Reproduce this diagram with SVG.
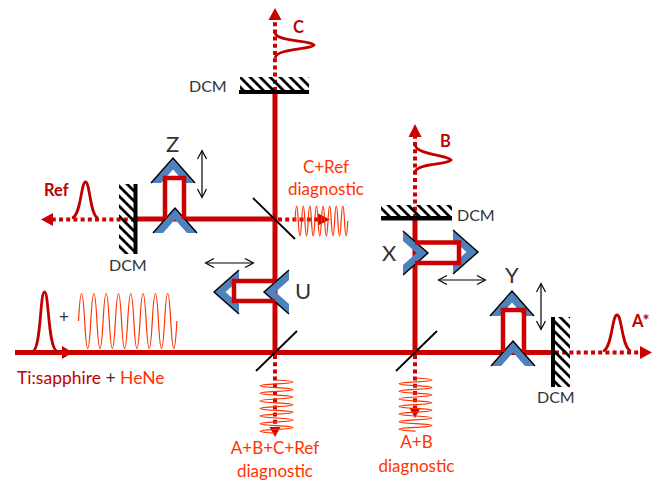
<svg xmlns="http://www.w3.org/2000/svg" width="660" height="482" viewBox="0 0 660 482">
<defs>
<pattern id="hatch" width="10" height="10" patternUnits="userSpaceOnUse" patternTransform="translate(240 77)">
<path d="M-2 -2L12 12M-2 8L2 12M8 -2L12 2" stroke="#000" stroke-width="2.800" fill="none"/>
</pattern>
<g id="chev">
<path d="M0 0L22 25L12 25L0 11.500L-12 25L-22 25Z" fill="#4F81BD"/>
<path d="M-22 25L0 0L22 25" fill="none" stroke="#000" stroke-width="1.400"/>
</g>
<marker id="open" markerWidth="12" markerHeight="12" refX="9" refY="5" orient="auto-start-reverse" markerUnits="userSpaceOnUse">
<path d="M1 0.500L9.500 5L1 9.500" fill="none" stroke="#000" stroke-width="1.200"/>
</marker>
</defs>
<style>
.beam{fill:none;stroke:#CC0000;stroke-width:5}
.thin{fill:none;stroke:#CC0000;stroke-width:4.500}
.dot{fill:none;stroke:#CC0000;stroke-width:4;stroke-dasharray:4 3.200}
.head{fill:#CC0000;stroke:none}
.pulse{fill:none;stroke:#C00000;stroke-width:2.800}
.wave{fill:none;stroke:#FF3300;stroke-width:1.200}
.bs{stroke:#000;stroke-width:1.800;fill:none}
.move{stroke:#000;stroke-width:1.200;fill:none;marker-start:url(#open);marker-end:url(#open)}
.bar{fill:#000}
.h{fill:url(#hatch)}
text{font-family:Lato,"Liberation Sans",sans-serif}
.lab{fill:#333;font-size:22px}
.dcm{fill:#333;font-size:16px}
.or{fill:#FF3300;font-size:17px;text-anchor:middle}
.bold{fill:#C00000;font-size:16.500px;font-weight:700}
</style>
<g id="connectors">
<path class="beam" d="M15 352.500H553"/>
<path class="head" d="M62 346L73 352.500L62 359Z"/>
<path class="beam" d="M275 352V92"/>
<path class="beam" d="M275 219H135"/>
<path class="beam" d="M415 352V218"/>
<path class="dot" d="M275 91V20"/>
<path class="head" d="M268.500 20L275 8L281.500 20Z"/>
<path class="dot" d="M415 218V137"/>
<path class="head" d="M408.500 137L415 124L421.500 137Z"/>
<path class="dot" d="M135 219.500H52"/>
<path class="head" d="M53 213L41 219.500L53 226Z"/>
<path class="dot" d="M555 352.500H640"/>
<path class="head" d="M640 346L652 352.500L640 359Z"/>
<path class="dot" d="M278 219.500H320"/>
<path class="head" d="M318 213.500L330 219.500L318 225.500Z"/>
<path class="dot" d="M275 355V428"/>
<path class="head" d="M269.500 427L275 437L280.500 427Z"/>
<path class="dot" d="M415 355V410"/>
<path class="head" d="M409.500 408L415 418L420.500 408Z"/>
</g>
<g id="pulses">
<path class="pulse" d="M33 351C41 349 40 292 44.500 292C49 292 48 349 57 351"/>
<path class="pulse" d="M72 218C81 216 81 182 85.500 182C90 182 90 216 98 218"/>
<path class="pulse" d="M603 351C612 349 612 315 617 315C622 315 622 349 631 351"/>
<path class="pulse" d="M275 33C277 42 311 40 314 45C311 50 277 48 275 58"/>
<path class="pulse" d="M415 145C417 155 448 155 451 160C448 165 417 163 415 172"/>
</g>
<g id="waves">
<path class="wave" d="M78.500 321q3.070 -55 6.150 0t6.150 0t6.150 0t6.150 0t6.150 0t6.150 0t6.150 0t6.150 0t6.150 0t6.150 0t6.150 0t6.150 0t6.150 0t6.150 0t6.150 0t6.150 0"/>
<path class="wave" d="M295 221q1.650 -30 3.300 0t3.300 0t3.300 0t3.300 0t3.300 0t3.300 0t3.300 0t3.300 0t3.300 0t3.300 0t3.300 0t3.300 0t3.300 0t3.300 0t3.300 0t3.300 0"/>
<path class="wave" d="M276.500 380q33 1.900 0 3.800t0 3.800t0 3.800t0 3.800t0 3.800t0 3.800t0 3.800t0 3.800t0 3.800t0 3.800t0 3.800t0 3.800t0 3.800t0 3.800"/>
<path class="wave" d="M415.500 378q33 1.900 0 3.800t0 3.800t0 3.800t0 3.800t0 3.800t0 3.800t0 3.800t0 3.800t0 3.800t0 3.800t0 3.800t0 3.800t0 3.800t0 3.800"/>
</g>
<g id="mirror-dcm-c"><rect class="h" x="240" y="77" width="69" height="14"/><rect class="bar" x="239" y="90" width="70" height="4"/></g>
<g id="mirror-dcm-b"><rect class="h" x="381" y="205" width="71" height="12"/><rect class="bar" x="381" y="216" width="71" height="4.500"/></g>
<g id="mirror-dcm-ref"><rect class="h" x="119" y="184" width="15" height="70"/><rect class="bar" x="133.500" y="184" width="4" height="70"/></g>
<g id="mirror-dcm-a"><rect class="h" x="555" y="317" width="15" height="70"/><rect class="bar" x="551" y="317" width="4" height="70"/></g>
<g id="splitters">
<path class="bs" d="M253 198L295 239"/>
<path class="bs" d="M256 371L297 331"/>
<path class="bs" d="M396 371L437 331"/>
</g>
<g id="stage-z">
<use href="#chev" x="173" y="158"/><use href="#chev" x="175" y="208"/>
<path class="thin" d="M165 219V178H184V219"/>
</g>
<g id="stage-u">
<use href="#chev" transform="translate(214 292) rotate(-90)"/><use href="#chev" transform="translate(264 292) rotate(-90)"/>
<path class="thin" d="M275 281H234V301H275"/>
</g>
<g id="stage-x">
<use href="#chev" transform="translate(428 253) rotate(90)"/><use href="#chev" transform="translate(478 252) rotate(90)"/>
<path class="thin" d="M415 242.500H459V263H415"/>
</g>
<g id="stage-y">
<use href="#chev" x="512" y="291"/><use href="#chev" x="513" y="341"/>
<path class="thin" d="M503 352V310H524V352"/>
</g>
<g id="moves">
<path class="move" d="M202 151V197"/>
<path class="move" d="M206 263H253"/>
<path class="move" d="M439 280H485"/>
<path class="move" d="M541 284V329"/>
</g>
<g id="labels">
<text class="lab" x="166" y="152">Z</text>
<text class="lab" x="295" y="299">U</text>
<text class="lab" x="382" y="261">X</text>
<text class="lab" x="505" y="283">Y</text>
<text class="dcm" x="189" y="92">DCM</text>
<text class="dcm" x="109" y="271">DCM</text>
<text class="dcm" x="457" y="221">DCM</text>
<text class="dcm" x="537" y="403">DCM</text>
<text class="or" x="326" y="173">C+Ref</text>
<text class="or" x="326" y="195">diagnostic</text>
<text class="or" x="275" y="454">A+B+C+Ref</text>
<text class="or" x="275" y="477">diagnostic</text>
<text class="or" x="416.500" y="448">A+B</text>
<text class="or" x="416.500" y="472">diagnostic</text>
<text x="17" y="384" font-size="17.500"><tspan fill="#C00000">Ti:sapphire</tspan><tspan fill="#333"> + </tspan><tspan fill="#FF3300">HeNe</tspan></text>
<text x="59" y="323" font-size="17" fill="#333">+</text>
<text class="bold" x="44" y="196">Ref</text>
<text class="bold" x="293" y="33">C</text>
<text class="bold" x="440" y="147">B</text>
<text class="bold" x="632" y="327">A*</text>
</g>
</svg>
